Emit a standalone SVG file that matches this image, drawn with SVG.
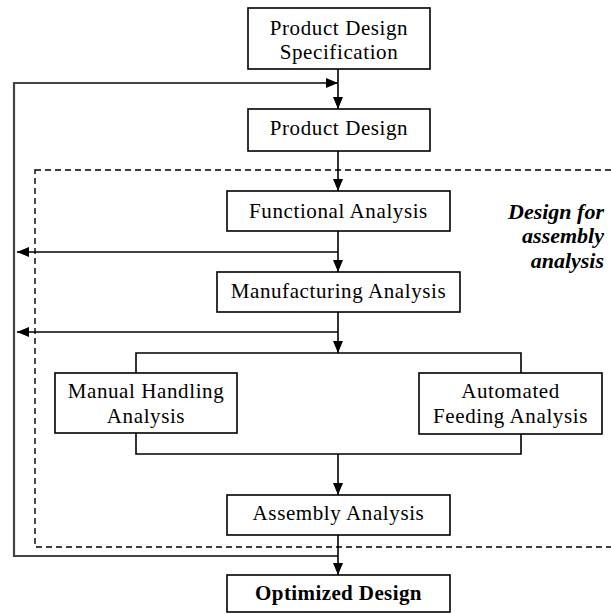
<svg xmlns="http://www.w3.org/2000/svg" width="611" height="614" viewBox="0 0 611 614">
<defs>
<marker id="ah" viewBox="0 0 12 10" refX="12" refY="5" markerWidth="12" markerHeight="10" markerUnits="userSpaceOnUse" orient="auto">
<path d="M0,0 L12,5 L0,10 Z" fill="#000"/>
</marker>
<style>
.box{fill:#fff;stroke:#000;stroke-width:1.6}
.t{font-family:'Liberation Serif','Times New Roman',serif;font-size:21px;letter-spacing:0.6px;text-anchor:middle;fill:#000}
.b{font-weight:bold;letter-spacing:0.4px}
.lbl{font-family:'Liberation Serif','Times New Roman',serif;font-size:22px;font-weight:bold;font-style:italic;text-anchor:end;fill:#000}
.c{fill:none;stroke:#000;stroke-width:1.6}
.fb{fill:none;stroke:#444;stroke-width:2.2}
.dash{fill:none;stroke:#000;stroke-width:1.4;stroke-dasharray:6 4}
</style>
</defs>
<rect class="dash" x="35" y="170" width="600" height="377"/>
<g id="connectors">
<path class="fb" d="M338,556 H14 V83 H326"/>
<line x1="14" y1="83" x2="338" y2="83" marker-end="url(#ah)" stroke="#444" stroke-width="2"/>
<line class="c" x1="338" y1="69" x2="338" y2="109" marker-end="url(#ah)"/>
<line class="c" x1="338" y1="151" x2="338" y2="191" marker-end="url(#ah)"/>
<line class="c" x1="338" y1="231" x2="338" y2="272" marker-end="url(#ah)"/>
<line class="c" x1="338" y1="252" x2="17" y2="252" marker-end="url(#ah)"/>
<line class="c" x1="338" y1="312" x2="338" y2="353" marker-end="url(#ah)"/>
<line class="c" x1="338" y1="332" x2="17" y2="332" marker-end="url(#ah)"/>
<path class="c" d="M136,373 V353 H521 V373"/>
<path class="c" d="M136,433 V454 H521 V434"/>
<line class="c" x1="338" y1="454" x2="338" y2="495" marker-end="url(#ah)"/>
<line class="c" x1="338" y1="535" x2="338" y2="575" marker-end="url(#ah)"/>
</g>
<g id="pds">
<rect class="box" x="248" y="8" width="182" height="61"/>
<text class="t" x="339" y="35">Product Design</text>
<text class="t" x="339" y="59">Specification</text>
</g>
<g id="pd">
<rect class="box" x="248" y="109" width="182" height="42"/>
<text class="t" x="339" y="135">Product Design</text>
</g>
<g id="fa">
<rect class="box" x="227" y="191" width="223" height="40"/>
<text class="t" x="338.5" y="218">Functional Analysis</text>
</g>
<g id="ma">
<rect class="box" x="217" y="272" width="243" height="40"/>
<text class="t" x="338.5" y="298">Manufacturing Analysis</text>
</g>
<g id="mh">
<rect class="box" x="55" y="373" width="182" height="60"/>
<text class="t" x="146" y="398">Manual Handling</text>
<text class="t" x="146" y="423">Analysis</text>
</g>
<g id="af">
<rect class="box" x="419" y="373" width="183" height="61"/>
<text class="t" x="510.5" y="398">Automated</text>
<text class="t" x="510.5" y="423">Feeding Analysis</text>
</g>
<g id="aa">
<rect class="box" x="227" y="495" width="223" height="40"/>
<text class="t" x="338.5" y="520">Assembly Analysis</text>
</g>
<g id="od">
<rect class="box" x="227" y="575" width="223" height="37"/>
<text class="t b" x="338.5" y="600">Optimized Design</text>
</g>
<g id="dfa">
<text class="lbl" x="604" y="219">Design for</text>
<text class="lbl" x="604" y="243">assembly</text>
<text class="lbl" x="604" y="268">analysis</text>
</g>
</svg>
